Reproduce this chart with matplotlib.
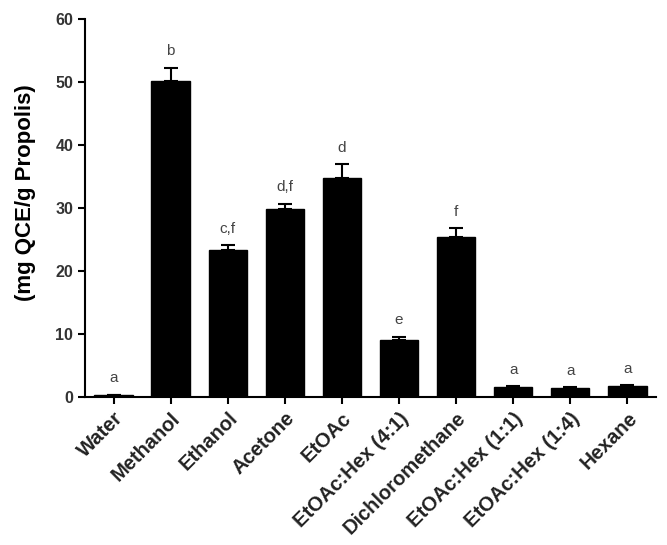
import numpy as np
import matplotlib
matplotlib.use("Agg")
import matplotlib.pyplot as plt

# Solvent extracts and flavonoid content (mg QCE / g propolis)
solvents = ["Water", "Methanol", "Ethanol", "Acetone", "EtOAc",
            "EtOAc:Hex (4:1)", "Dichloromethane", "EtOAc:Hex (1:1)",
            "EtOAc:Hex (1:4)", "Hexane"]
means = [0.3, 50.2, 23.3, 29.8, 34.7, 9.1, 25.4, 1.6, 1.5, 1.7]
errors = [0.05, 2.1, 0.8, 0.9, 2.3, 0.5, 1.4, 0.1, 0.1, 0.15]
letters = ["a", "b", "c,f", "d,f", "d", "e", "f", "a", "a", "a"]

plt.rcParams["font.family"] = ["Liberation Sans", "DejaVu Sans"]

fig = plt.figure(figsize=(6.67, 5.45), dpi=100)
ax = fig.add_axes([0.1274, 0.2716, 0.856, 0.6934])

x = np.arange(len(solvents))
ax.bar(x, means, width=0.67, color="black", edgecolor="black", linewidth=1)
ax.errorbar(x, means, yerr=[np.zeros(len(errors)), errors], fmt="none",
            ecolor="black", elinewidth=1.5, capsize=5, capthick=1.5)

# significance letters above each bar
for xi, m, e, lab in zip(x, means, errors, letters):
    ax.text(xi, m + e + 2.6, lab, ha="center", va="center",
            fontsize=11, color="#444444")

ax.set_xlim(-0.5, 9.5)
ax.set_ylim(0, 60)
ax.set_yticks([0, 10, 20, 30, 40, 50, 60])
ax.set_xticks(x)
ax.set_xticklabels(solvents, rotation=45, ha="right", rotation_mode="anchor",
                   fontsize=14.5, fontweight="bold", color="#222222")
for lbl in ax.get_yticklabels():
    lbl.set_fontsize(11.5)
    lbl.set_fontweight("bold")
    lbl.set_color("#333333")

ax.set_ylabel("(mg QCE/g Propolis)", fontsize=16, fontweight="bold",
              labelpad=14, y=0.54)

ax.spines["top"].set_visible(False)
ax.spines["right"].set_visible(False)
ax.spines["left"].set_linewidth(1.5)
ax.spines["bottom"].set_linewidth(1.5)
ax.tick_params(axis="both", direction="out", length=5, width=1.5)

fig.savefig("out.png", dpi=100)
